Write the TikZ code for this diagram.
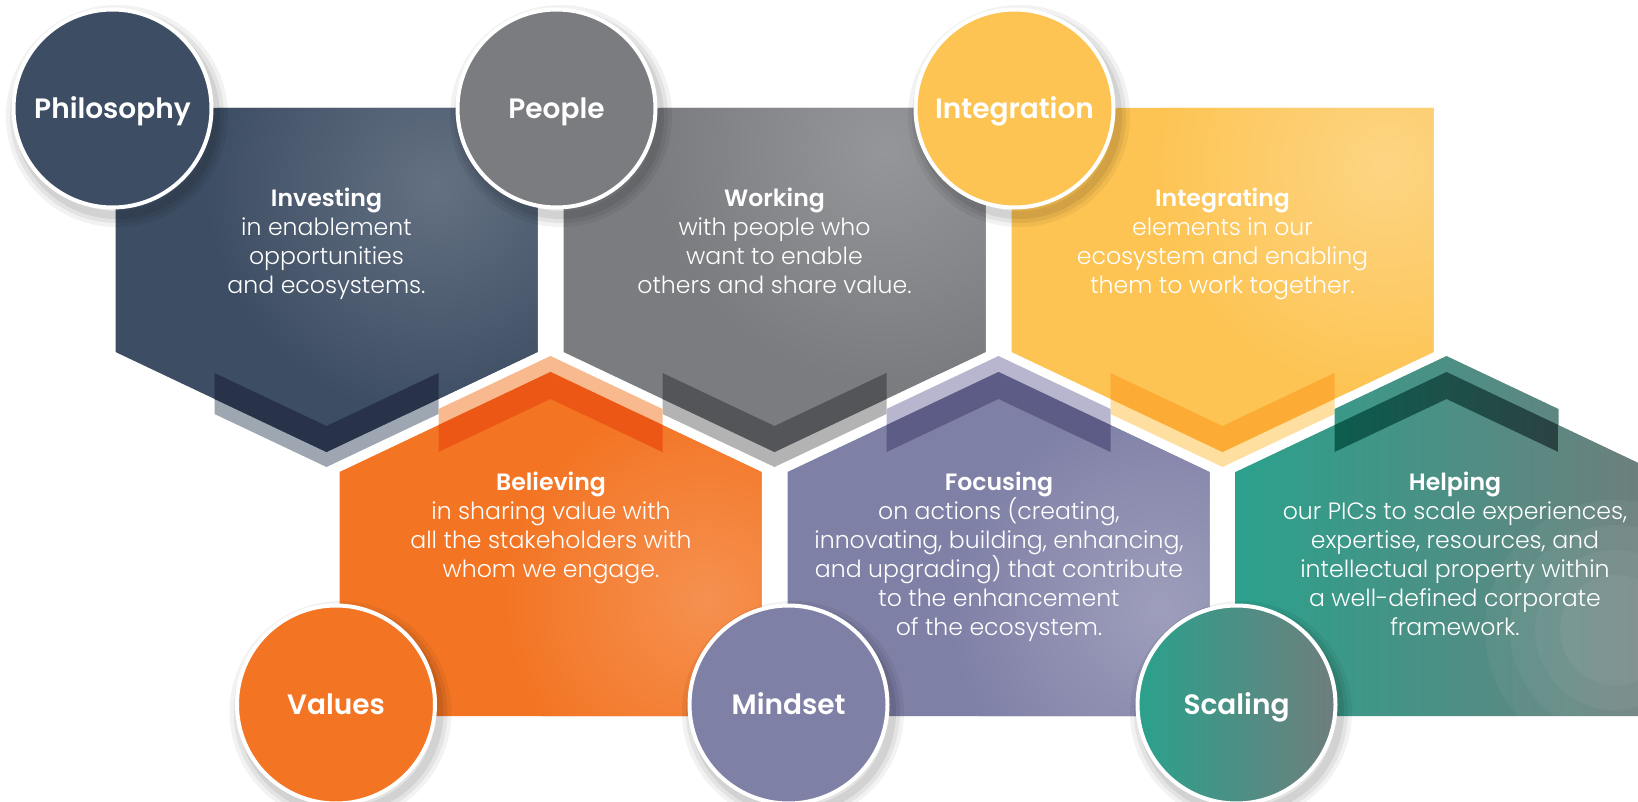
\documentclass[tikz,border=0pt]{standalone}
\usepackage{fontspec}
\setmainfont{Poppins}[UprightFont={* Light}, BoldFont={* SemiBold}]

\definecolor{philo}{HTML}{3D4D63}
\definecolor{philodk}{HTML}{28334A}
\definecolor{philolt}{HTML}{9EA7B1}
\definecolor{peop}{HTML}{7B7C80}
\definecolor{peopdk}{HTML}{545558}
\definecolor{peoplt}{HTML}{B3B3B4}
\definecolor{integ}{HTML}{FDC453}
\definecolor{integdk}{HTML}{FCAB35}
\definecolor{integlt}{HTML}{FEDFA0}
\definecolor{valu}{HTML}{F37524}
\definecolor{valudk}{HTML}{ED5716}
\definecolor{valult}{HTML}{F7B98D}
\definecolor{minds}{HTML}{7F80A6}
\definecolor{mindsdk}{HTML}{5D5C86}
\definecolor{mindslt}{HTML}{B7B6CE}
\definecolor{scalA}{HTML}{2AA18C}
\definecolor{scalB}{HTML}{6F7E7D}
\definecolor{scaldkA}{HTML}{0D5E4F}
\definecolor{scaldkB}{HTML}{2B4242}

\begin{document}
\begin{tikzpicture}[x=1pt, y=-1pt,
    downpent/.style={insert path={({#1-211},108) -- ({#1+211},108) -- ({#1+211},352)
      -- (#1,452) -- ({#1-211},352) -- cycle}},
    downchev/.style={insert path={({#1-112},373) -- (#1,426) -- ({#1+112},373)
      -- ({#1+112},414) -- (#1,467) -- ({#1-112},414) -- cycle}},
    uphouse/.style={insert path={({#1-211},472) -- (#1,372) -- ({#1+211},472)
      -- ({#1+211},716) -- ({#1-211},716) -- cycle}},
    upchev/.style={insert path={({#1-112},409) -- (#1,356) -- ({#1+112},409)
      -- ({#1+112},452) -- (#1,399) -- ({#1-112},452) -- cycle}},
    cshade/.style={draw=black, draw opacity=.07, line width=8pt,
      preaction={draw=black, draw opacity=.06, line width=16pt},
      preaction={draw=black, draw opacity=.05, line width=24pt}},
    sheen/.style={fill=white, fill opacity=.045},
    ring/.style={circle, minimum size=198pt, inner sep=0pt, draw=white, line width=4pt,
      text=white, text height=19.5pt, text depth=0pt,
      font=\fontsize{28}{30}\selectfont\bfseries},
    blurb/.style={text=white, align=center, anchor=base, inner sep=0pt,
      font=\fontsize{23.6}{29}\selectfont}]
  \useasboundingbox (0,0) rectangle (1638,802);
  \clip (0,0) rectangle (1638,802);
  \fill[white] (0,0) rectangle (1638,802);

  % philosophy block
  \fill[philolt] [downchev=326.5];
  \fill[philo] [downpent=326.5];
  \begin{scope}
    \clip [downpent=326.5];
    \shade[inner color=philo!80!white, outer color=philo] (435,185) circle[radius=230pt];
    \fill[philodk] [downchev=326.5];
  \end{scope}

  % people block
  \fill[peoplt] [downchev=774.5];
  \fill[peop] [downpent=774.5];
  \begin{scope}
    \clip [downpent=774.5];
    \shade[inner color=peop!80!white, outer color=peop] (885,150) circle[radius=230pt];
    \fill[peopdk] [downchev=774.5];
  \end{scope}

  % integration block
  \fill[integlt] [downchev=1222.5];
  \fill[integ] [downpent=1222.5];
  \begin{scope}
    \clip [downpent=1222.5];
    \shade[inner color=integ!72!white, outer color=integ] (1385,165) circle[radius=230pt];
    \fill[integdk] [downchev=1222.5];
  \end{scope}

  % values block
  \fill[valult] [upchev=550.5];
  \fill[valu] [uphouse=550.5];
  \begin{scope}
    \clip [uphouse=550.5];
    \shade[inner color=valu!80!white, outer color=valu] (705,600) circle[radius=200pt];
    \fill[valudk] [upchev=550.5];
  \end{scope}

  % mindset block
  \fill[mindslt] [upchev=998.5];
  \fill[minds] [uphouse=998.5];
  \begin{scope}
    \clip [uphouse=998.5];
    \shade[inner color=minds!76!white, outer color=minds] (1160,610) circle[radius=210pt];
    \fill[mindsdk] [upchev=998.5];
  \end{scope}

  % scaling block, cut by the right margin
  \shade[left color=scalA, right color=scalB] [uphouse=1446.5] [upchev=1446.5];
  \begin{scope}
    \clip [uphouse=1446.5];
    \fill[sheen] (1615,630) circle[radius=130pt];
    \fill[sheen] (1615,630) circle[radius=105pt];
    \fill[sheen] (1615,630) circle[radius=80pt];
    \fill[sheen] (1615,630) circle[radius=55pt];
    \shade[left color=scaldkA, right color=scaldkB] [upchev=1446.5];
  \end{scope}

  % texts, placed by the baseline of their last line
  \node[blurb] (investing) at (326.5,294)
    {\textbf{Investing}\\in enablement\\opportunities\\and ecosystems.};
  \node[blurb] (working) at (774.5,294)
    {\textbf{Working}\\with people who\\want to enable\\others and share value.};
  \node[blurb] (integrating) at (1222.5,294)
    {\textbf{Integrating}\\elements in our\\ecosystem and enabling\\them to work together.};
  \node[blurb] (believing) at (551,577)
    {\textbf{Believing}\\in sharing value with\\all the stakeholders with\\whom we engage.};
  \node[blurb] (focusing) at (999,635)
    {\textbf{Focusing}\\on actions (creating,\\innovating, building, enhancing,\\and upgrading) that contribute\\to the enhancement\\of the ecosystem.};
  \node[blurb] (helping) at (1455,635)
    {\textbf{Helping}\\our PICs to scale experiences,\\expertise, resources, and\\intellectual property within\\a well-defined corporate\\framework.};

  % soft shadows under the circles
  \draw[cshade] (117,116) circle[radius=99pt];
  \draw[cshade] (561,116) circle[radius=99pt];
  \draw[cshade] (1019,116) circle[radius=99pt];
  \draw[cshade] (340.5,712) circle[radius=99pt];
  \draw[cshade] (793,712) circle[radius=99pt];
  \draw[cshade] (1241,712) circle[radius=99pt];

  % circles
  \node[ring, fill=philo] (philosophy) at (112.5,108.5) {Philosophy};
  \node[ring, fill=peop] (people) at (556.5,108.5) {People};
  \node[ring, fill=integ] (integration) at (1014.5,108.5) {Integration};
  \node[ring, fill=valu] (values) at (336,704.5) {Values};
  \node[ring, fill=minds] (mindset) at (788.5,704.5) {Mindset};
  \node[ring, left color=scalA, right color=scalB] (scaling) at (1236.5,704.5) {Scaling};
\end{tikzpicture}
\end{document}
